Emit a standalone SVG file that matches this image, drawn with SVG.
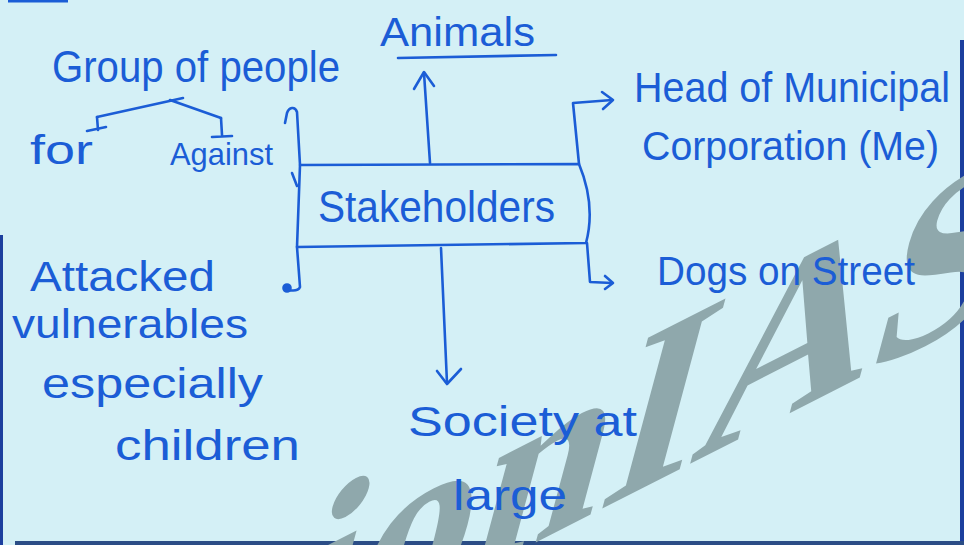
<svg xmlns="http://www.w3.org/2000/svg" width="964" height="545" viewBox="0 0 964 545">
  <style>
    .ink { fill: #1b5dd6; font-family: "Liberation Sans", Arial, sans-serif; }
    .ln { stroke: #1b5dd6; stroke-width: 2.6; fill: none; stroke-linecap: round; stroke-linejoin: round; }
    .wm { fill: #8fa8ac; font-family: "Liberation Serif", "Times New Roman", serif; font-weight: bold; }
  </style>
  <rect x="0" y="0" width="964" height="545" fill="#d4f0f6"/>
  <!-- frame edges -->
  <g id="edges">
    <rect x="0" y="235" width="3" height="310" fill="#1c3f9e"/>
    <rect x="960" y="40" width="4" height="505" fill="#1c3f9e"/>
    <rect x="15" y="541" width="949" height="4" fill="#2b4d86"/>
    <line x1="8" y1="1" x2="68" y2="1" stroke="#1b5dd6" stroke-width="3"/>
  </g>
  <!-- watermark -->
  <g id="watermark">
    <text class="wm" font-size="270" transform="matrix(0.891,-0.454,-0.259,0.966,-52,842)">VisionIAS</text>
  </g>
  <!-- connectors -->
  <g id="connectors" class="ln">
    <path d="M430,163 L424,73"/>
    <path d="M414,89 L424,72 L434,86"/>
    <path d="M441,248 L447,383"/>
    <path d="M437,371 L447,384 L461,369"/>
    <path d="M579,164 L573,103 L612,100"/>
    <path d="M602,92 L613,100 L603,109"/>
    <path d="M587,243 L590,282 L612,283"/>
    <path d="M605,276 L613,283 L605,289"/>
    <path d="M300,165 L297,112 C295,106 289,107 287,113 L285,123"/>
    <path d="M297,247 L300,287 Q298,292 288,290"/>
    <circle cx="287" cy="288" r="3.5" fill="#1b5dd6"/>
    <path d="M292,173 L297,186"/>
    <path d="M97,117 L183,98"/>
    <path d="M170,100 L221,118"/>
    <path d="M97,117 L98,130 M87,131 L106,127"/>
    <path d="M221,118 L222,135 M212,137 L232,136"/>
    <path d="M398,58 L556,55"/>
  </g>
  <!-- nodes -->
  <g id="stakeholders">
    <path class="ln" d="M300,165 L579,164 Q596,205 586,243 L297,247 Z"/>
    <text class="ink" x="318" y="222" font-size="44" textLength="237" lengthAdjust="spacingAndGlyphs">Stakeholders</text>
  </g>
  <g id="animals">
    <text class="ink" x="380" y="46" font-size="40" textLength="155" lengthAdjust="spacingAndGlyphs">Animals</text>
  </g>
  <g id="group-of-people">
    <text class="ink" x="52" y="82" font-size="44" textLength="288" lengthAdjust="spacingAndGlyphs">Group of people</text>
  </g>
  <g id="for">
    <text class="ink" x="30" y="164" font-size="40" textLength="63" lengthAdjust="spacingAndGlyphs">for</text>
  </g>
  <g id="against">
    <text class="ink" x="170" y="165" font-size="32" textLength="103" lengthAdjust="spacingAndGlyphs">Against</text>
  </g>
  <g id="head-municipal">
    <text class="ink" x="634" y="102" font-size="42" textLength="316" lengthAdjust="spacingAndGlyphs">Head of Municipal</text>
    <text class="ink" x="642" y="160" font-size="40" textLength="297" lengthAdjust="spacingAndGlyphs">Corporation (Me)</text>
  </g>
  <g id="dogs">
    <text class="ink" x="657" y="285" font-size="40" textLength="258" lengthAdjust="spacingAndGlyphs">Dogs on Street</text>
  </g>
  <g id="attacked">
    <text class="ink" x="30" y="291" font-size="42" textLength="185" lengthAdjust="spacingAndGlyphs">Attacked</text>
    <text class="ink" x="12" y="338" font-size="40" textLength="236" lengthAdjust="spacingAndGlyphs">vulnerables</text>
    <text class="ink" x="42" y="398" font-size="42" textLength="221" lengthAdjust="spacingAndGlyphs">especially</text>
    <text class="ink" x="115" y="460" font-size="42" textLength="185" lengthAdjust="spacingAndGlyphs">children</text>
  </g>
  <g id="society">
    <text class="ink" x="408" y="436" font-size="42" textLength="229" lengthAdjust="spacingAndGlyphs">Society at</text>
    <text class="ink" x="453" y="510" font-size="42" textLength="114" lengthAdjust="spacingAndGlyphs">large</text>
  </g>
</svg>
